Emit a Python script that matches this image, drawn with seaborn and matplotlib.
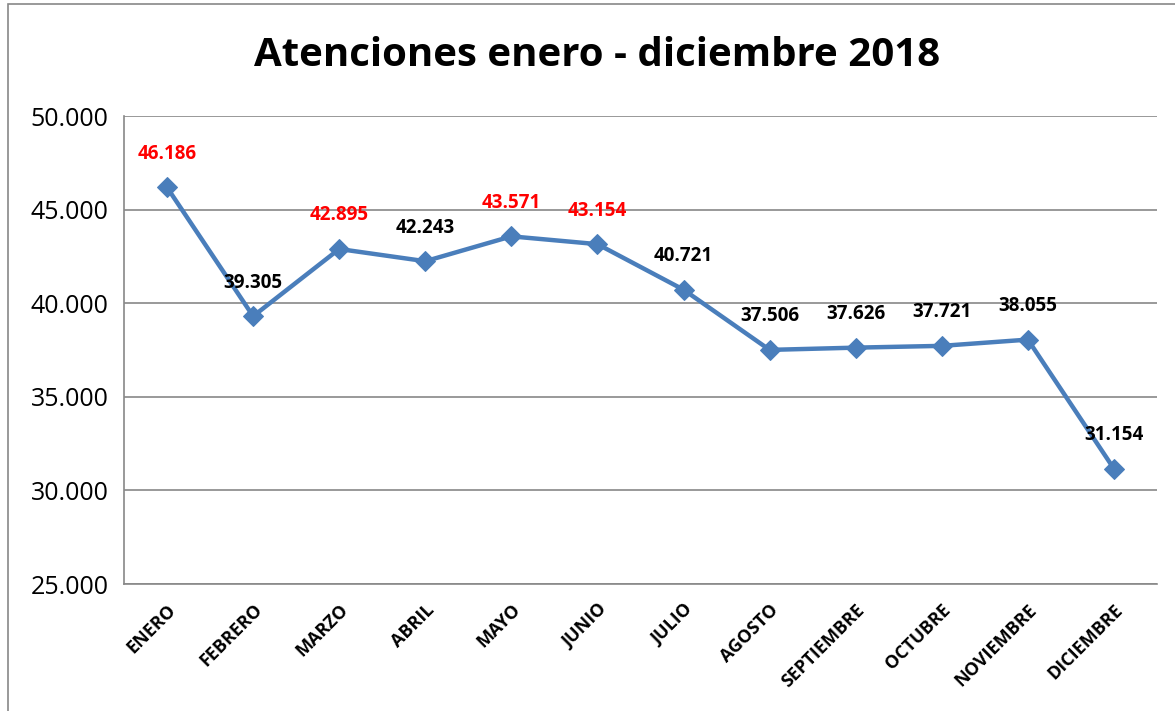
import matplotlib.pyplot as plt
import seaborn as sns
import pandas as pd
from matplotlib.ticker import FuncFormatter, FixedLocator
from matplotlib.patches import Rectangle

meses = ['ENERO', 'FEBRERO', 'MARZO', 'ABRIL', 'MAYO', 'JUNIO', 'JULIO',
         'AGOSTO', 'SEPTIEMBRE', 'OCTUBRE', 'NOVIEMBRE', 'DICIEMBRE']
atenciones = [46186, 39305, 42895, 42243, 43571, 43154, 40721,
              37506, 37626, 37721, 38055, 31154]
destacados = ['ENERO', 'MARZO', 'MAYO', 'JUNIO']

df = pd.DataFrame({'mes': meses, 'atenciones': atenciones})
df['pos'] = range(len(df))


def miles(v, _=None):
    return f'{v:,.0f}'.replace(',', '.')


sns.set_style('white')
plt.rcParams['font.family'] = ['Open Sans', 'DejaVu Sans']

fig = plt.figure(figsize=(11.75, 7.11), dpi=100)
fig.patches.append(Rectangle((8 / 1175, -0.01), 1.1, 1 - 4 / 711 + 0.01,
                             transform=fig.transFigure, fill=False,
                             edgecolor='#888888', linewidth=1.2))
ax = fig.add_axes([124 / 1175, 1 - 584 / 711, (1157 - 124) / 1175, (584 - 116) / 711])

sns.lineplot(data=df, x='pos', y='atenciones', ax=ax, color='#4A7EBB',
             linewidth=3.2, marker='D', markersize=10, markeredgecolor='#4A7EBB')

ax.set_xlim(-0.5, len(meses) - 0.5)
ax.set_ylim(25000, 50000)
ax.set_yticks(range(25000, 50001, 5000))
ax.yaxis.set_major_formatter(FuncFormatter(miles))
ax.set_xticks(range(len(meses)))
ax.set_xticklabels(meses, rotation=45, ha='right', rotation_mode='anchor',
                   fontsize=13, fontweight='bold', color='black')
ax.xaxis.set_minor_locator(FixedLocator([i - 0.5 for i in range(len(meses) + 1)]))
ax.tick_params(axis='x', which='major', length=0, pad=12)
ax.tick_params(axis='x', which='minor', length=6, color='#888888', width=1.2)
ax.tick_params(axis='y', length=6, color='#888888', width=1.2, labelsize=18,
               labelcolor='black', pad=5)
ax.grid(axis='y', color='#888888', linewidth=1.2)
for s in ['top', 'right']:
    ax.spines[s].set_visible(False)
for s in ['left', 'bottom']:
    ax.spines[s].set_color('#888888')
    ax.spines[s].set_linewidth(1.2)
ax.set_xlabel('')
ax.set_ylabel('')

for _, r in df.iterrows():
    color = 'red' if r['mes'] in destacados else 'black'
    ax.annotate(miles(r['atenciones']), (r['pos'], r['atenciones']),
                xytext=(0, 17), textcoords='offset points', ha='center',
                va='bottom', fontsize=13.5, fontweight='bold', color=color)

fig.text(597 / 1175, 1 - 55 / 711, 'Atenciones enero - diciembre 2018',
         ha='center', va='center', fontsize=29, fontweight='bold', color='black')

fig.savefig('out.png', dpi=100)
